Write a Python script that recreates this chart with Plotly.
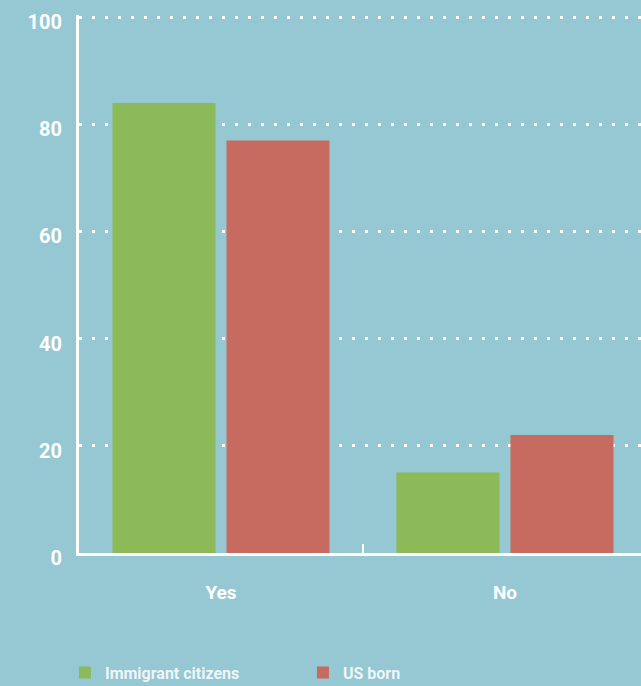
import plotly.graph_objects as go

categories = ["Yes", "No"]
immigrant_citizens = [84, 15]
us_born = [77, 22]
series_names = ["Immigrant citizens", "US born"]
y_ticks = [0, 20, 40, 60, 80, 100]

BG = "#95c8d3"
GREEN = "#8cba58"
RED = "#c76a5f"
WHITE = "#ffffff"
FONT = "Roboto"

fig = go.Figure()
fig.add_trace(go.Bar(x=categories, y=immigrant_citizens, name=series_names[0],
                     marker=dict(color=GREEN, line=dict(width=0))))
fig.add_trace(go.Bar(x=categories, y=us_born, name=series_names[1],
                     marker=dict(color=RED, line=dict(width=0))))

fig.update_layout(
    width=641, height=686,
    margin=dict(l=79, r=0, t=15, b=133, autoexpand=False),
    paper_bgcolor=BG, plot_bgcolor=BG,
    barmode="group", bargap=0.197, bargroupgap=0.0965,
    font=dict(family=FONT, color=WHITE),
    showlegend=True,
    legend=dict(orientation="h", x=-0.025, xanchor="left",
                y=-0.2225, yanchor="middle",
                font=dict(family=FONT, size=16, color="rgba(255,255,255,0.85)", weight="bold"),
                entrywidth=193, bgcolor="rgba(0,0,0,0)"),
)
fig.update_xaxes(
    range=[-0.5, 1.479],
    showline=True, linecolor=WHITE, linewidth=3,
    showgrid=False, zeroline=False,
    ticks="inside", tickson="boundaries", ticklen=9, tickwidth=2, tickcolor=WHITE,
    tickfont=dict(family=FONT, size=19, color=WHITE, weight="bold"),
    ticklabelstandoff=20,
)
fig.update_yaxes(
    range=[0, 100.4], tickvals=y_ticks,
    showline=True, linecolor=WHITE, linewidth=3,
    showgrid=True, gridcolor=WHITE, gridwidth=3, griddash="3px,10px",
    zeroline=False, ticks="",
    tickfont=dict(family=FONT, size=20, color=WHITE, weight="bold"),
    ticklabelstandoff=10, ticklabelshift=5,
)

fig.write_html("out.html", config={"displayModeBar": False},
               post_script="document.body.style.margin='0';document.body.style.padding='0';")
